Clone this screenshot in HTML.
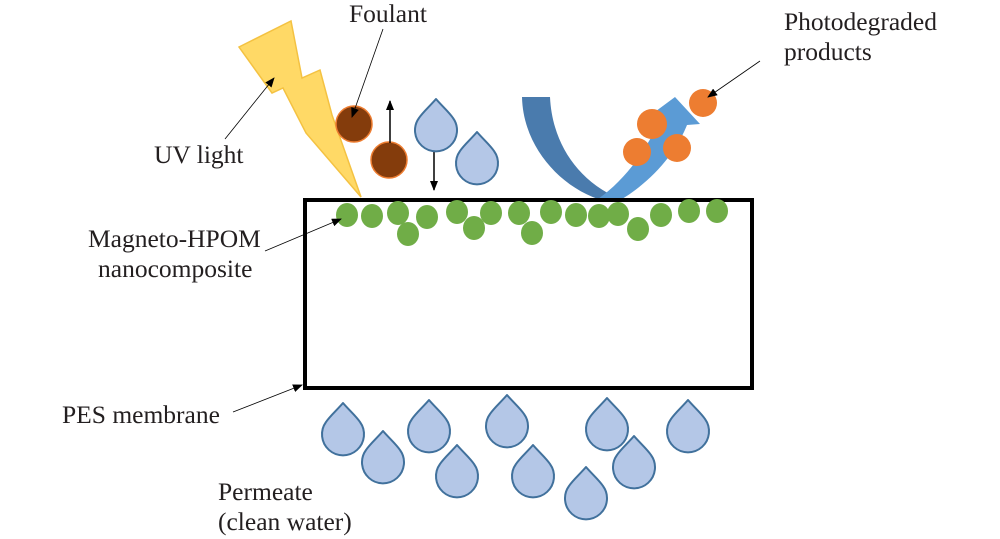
<!DOCTYPE html>
<html><head><meta charset="utf-8"><style>
html,body{margin:0;padding:0;background:#fff;}
svg{display:block;}
text{font-family:"Liberation Serif",serif;font-size:25.5px;fill:#231f20;}
</style></head><body>
<svg width="1000" height="539" viewBox="0 0 1000 539" xmlns="http://www.w3.org/2000/svg">
<defs>
<marker id="ah" markerWidth="10" markerHeight="8" refX="9" refY="4" orient="auto" markerUnits="userSpaceOnUse">
<path d="M0,0 L10,4 L0,8 Z" fill="#000"/>
</marker>
<symbol id="drop" overflow="visible">
<path d="M0,0 C6,7 13,13 17,19 A21,21 0 1 1 -17,19 C-13,13 -6,7 0,0 Z" fill="#b4c7e7" stroke="#41719c" stroke-width="2" stroke-linejoin="round"/>
</symbol>
</defs>

<!-- lightning -->
<polygon points="239,47 291,21 302,78 320,70 332,115 361,197 306,133 283,88 272,93" fill="#ffd966" stroke="#f4c242" stroke-width="1.5"/>

<!-- curved arrow -->
<path d="M522,97 L550,97 C552,140 575,180 620,199 L598,199 C558,185 523,145 522,97 Z" fill="#4a7bad"/>
<path d="M598,199 L622,199 C650,182 675,155 687,125 L700,124 L675,97 L648,117 L660,120 C645,152 625,180 598,199 Z" fill="#5b9bd5"/>

<!-- orange -->
<circle cx="703" cy="103" r="14" fill="#ed7d31"/>
<circle cx="652" cy="124" r="15" fill="#ed7d31"/>
<circle cx="637" cy="152" r="14" fill="#ed7d31"/>
<circle cx="677" cy="148" r="14" fill="#ed7d31"/>

<!-- foulants -->
<circle cx="354" cy="124" r="18" fill="#843c0c" stroke="#ed7d31" stroke-width="1.5"/>
<circle cx="389" cy="160" r="18" fill="#843c0c" stroke="#ed7d31" stroke-width="1.5"/>
<line x1="390" y1="143" x2="390" y2="101" stroke="#000" stroke-width="1.5" marker-end="url(#ah)"/>
<line x1="434" y1="146" x2="434" y2="190" stroke="#000" stroke-width="1.5" marker-end="url(#ah)"/>

<!-- top drops -->
<use href="#drop" x="436" y="99"/>
<use href="#drop" x="477" y="132"/>

<!-- membrane -->
<rect x="305" y="200" width="447" height="188" fill="none" stroke="#000" stroke-width="4"/>

<!-- green particles -->
<g fill="#70ad47">
<ellipse cx="347" cy="215" rx="11" ry="12"/>
<ellipse cx="372" cy="216" rx="11" ry="12"/>
<ellipse cx="398" cy="213" rx="11" ry="12"/>
<ellipse cx="427" cy="217" rx="11" ry="12"/>
<ellipse cx="408" cy="234" rx="11" ry="12"/>
<ellipse cx="457" cy="212" rx="11" ry="12"/>
<ellipse cx="474" cy="228" rx="11" ry="12"/>
<ellipse cx="491" cy="213" rx="11" ry="12"/>
<ellipse cx="519" cy="213" rx="11" ry="12"/>
<ellipse cx="532" cy="233" rx="11" ry="12"/>
<ellipse cx="551" cy="212" rx="11" ry="12"/>
<ellipse cx="576" cy="215" rx="11" ry="12"/>
<ellipse cx="599" cy="216" rx="11" ry="12"/>
<ellipse cx="618" cy="214" rx="11" ry="12"/>
<ellipse cx="638" cy="229" rx="11" ry="12"/>
<ellipse cx="661" cy="215" rx="11" ry="12"/>
<ellipse cx="689" cy="211" rx="11" ry="12"/>
<ellipse cx="717" cy="211" rx="11" ry="12"/>
</g>

<!-- bottom drops -->
<use href="#drop" x="343" y="403"/>
<use href="#drop" x="383" y="431"/>
<use href="#drop" x="429" y="400"/>
<use href="#drop" x="457" y="445"/>
<use href="#drop" x="507" y="395"/>
<use href="#drop" x="533" y="445"/>
<use href="#drop" x="586" y="467"/>
<use href="#drop" x="607" y="398"/>
<use href="#drop" x="634" y="436"/>
<use href="#drop" x="688" y="400"/>

<!-- leader lines -->
<g stroke="#000" stroke-width="0.8" fill="none">
<line x1="225" y1="139" x2="274" y2="78" marker-end="url(#ah)"/>
<line x1="383" y1="29" x2="352" y2="117" marker-end="url(#ah)"/>
<line x1="760" y1="61" x2="708" y2="97" marker-end="url(#ah)"/>
<line x1="265" y1="251" x2="341" y2="219" marker-end="url(#ah)"/>
<line x1="233" y1="412" x2="302" y2="385" marker-end="url(#ah)"/>
</g>

<!-- labels -->
<text x="349" y="22">Foulant</text>
<text x="154" y="163">UV light</text>
<text x="784" y="30">Photodegraded</text>
<text x="784" y="60">products</text>
<text x="88" y="247">Magneto-HPOM</text>
<text x="98" y="277">nanocomposite</text>
<text x="62" y="423">PES membrane</text>
<text x="218" y="500">Permeate</text>
<text x="218" y="530">(clean water)</text>
</svg>
</body></html>
